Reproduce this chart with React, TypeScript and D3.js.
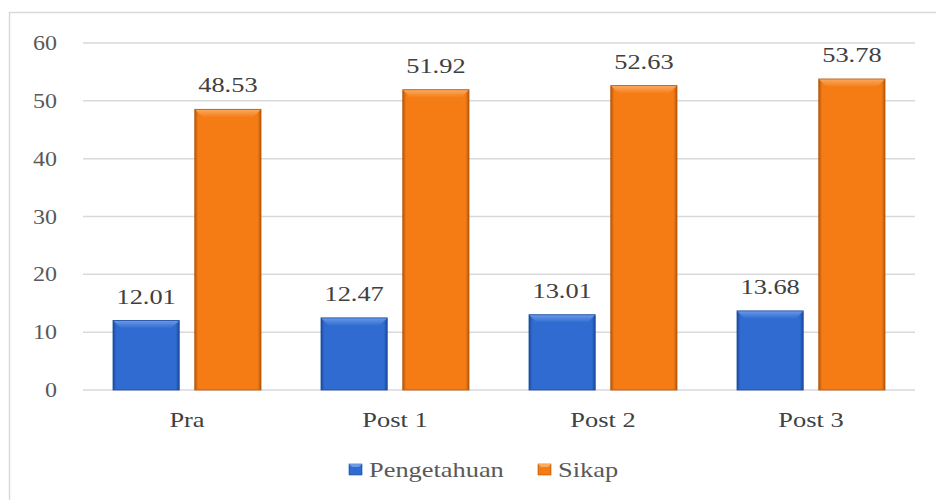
import * as d3 from "d3";

const categories = ["Pra", "Post 1", "Post 2", "Post 3"];
const series = ["Pengetahuan", "Sikap"];
const pengetahuan = [12.01, 12.47, 13.01, 13.68];
const sikap = [48.53, 51.92, 52.63, 53.78];
const yTicks = [0, 10, 20, 30, 40, 50, 60];

const colors: Record<string, { base: string; light: string; dark: string }> = {
  Pengetahuan: { base: "#2f6bd0", light: "#6a9ae8", dark: "#1d4a9c" },
  Sikap: { base: "#f57c15", light: "#fbab62", dark: "#b6560a" },
};

const serif = { fontFamily: "'Liberation Serif', 'Times New Roman', serif" };
// the source picture is stretched sideways, so the type is widened to match
const sx = 1.2;

type LabelProps = {
  x: number;
  y: number;
  size: number;
  fill: string;
  anchor?: "start" | "middle" | "end";
  children: React.ReactNode;
};

function Label({ x, y, size, fill, anchor = "middle", children }: LabelProps) {
  return (
    <text
      transform={`translate(${x},${y}) scale(${sx},1)`}
      textAnchor={anchor}
      fontSize={size}
      fill={fill}
      style={serif}
    >
      {children}
    </text>
  );
}

export default function App() {
  const width = 936;
  const height = 500;
  const left = 83;
  const right = 915;
  const top = 43;
  const bottom = 390;

  const x0 = d3.scaleBand<string>().domain(categories).range([left, right]);
  const x1 = d3
    .scaleBand<string>()
    .domain(series)
    .range([30, x0.bandwidth() - 30])
    .paddingInner(0.19);
  const y = d3.scaleLinear().domain([0, 60]).range([bottom, top]);

  const values: Record<string, number[]> = { Pengetahuan: pengetahuan, Sikap: sikap };
  const bw = x1.bandwidth();
  const bevel = 8;

  return (
    <svg width={width} height={height} style={{ position: "absolute", left: 0, top: 0, background: "#fff" }}>
      <defs>
        {series.map((s) => (
          <linearGradient key={s} id={`g-${s}`} x1="0" x2="1" y1="0" y2="0">
            <stop offset="0" stopColor={colors[s].dark} />
            <stop offset="0.05" stopColor={colors[s].base} />
            <stop offset="0.95" stopColor={colors[s].base} />
            <stop offset="1" stopColor={colors[s].dark} />
          </linearGradient>
        ))}
        {series.map((s) => (
          <linearGradient key={s} id={`b-${s}`} x1="0" x2="0" y1="0" y2="1">
            <stop offset="0" stopColor={colors[s].light} />
            <stop offset="1" stopColor={colors[s].base} />
          </linearGradient>
        ))}
      </defs>
      <rect x={9.5} y={12.5} width={960} height={520} fill="none" stroke="#d9d9d9" strokeWidth={1.5} />

      {yTicks.map((t) => (
        <g key={t}>
          <line x1={left} x2={right} y1={y(t)} y2={y(t)} stroke="#d9d9d9" strokeWidth={1.5} />
          <Label x={57} y={y(t) + 7} size={20} fill="#595959" anchor="end">
            {t}
          </Label>
        </g>
      ))}

      {categories.map((c, i) => (
        <g key={c} transform={`translate(${x0(c)},0)`}>
          {series.map((s) => {
            const v = values[s][i];
            const bx = x1(s) as number;
            const by = y(v);
            const bh = bottom - by;
            return (
              <g key={s}>
                <rect x={bx} y={by} width={bw} height={bh} fill={`url(#g-${s})`} />
                <polygon
                  points={`${bx},${by} ${bx + bw},${by} ${bx + bw - bevel},${by + bevel} ${bx + bevel},${by + bevel}`}
                  fill={`url(#b-${s})`}
                />
                <rect x={bx} y={by} width={bw} height={bh} fill="none" stroke={colors[s].dark} strokeWidth={0.8} />
                <Label x={bx + bw / 2} y={by - 17} size={22} fill="#404040">
                  {v.toFixed(2)}
                </Label>
              </g>
            );
          })}
          <Label x={x0.bandwidth() / 2} y={427} size={22} fill="#404040">
            {c}
          </Label>
        </g>
      ))}

      {series.map((s, i) => {
        const lx = i === 0 ? 349 : 538;
        return (
          <g key={s} transform={`translate(${lx},464)`}>
            <rect x={0} y={0} width={13} height={11} fill={`url(#g-${s})`} stroke={colors[s].dark} strokeWidth={0.6} />
            <polygon points="0,0 13,0 10,3 3,3" fill={colors[s].light} />
            <Label x={20} y={13} size={22} fill="#595959" anchor="start">
              {s}
            </Label>
          </g>
        );
      })}
    </svg>
  );
}
